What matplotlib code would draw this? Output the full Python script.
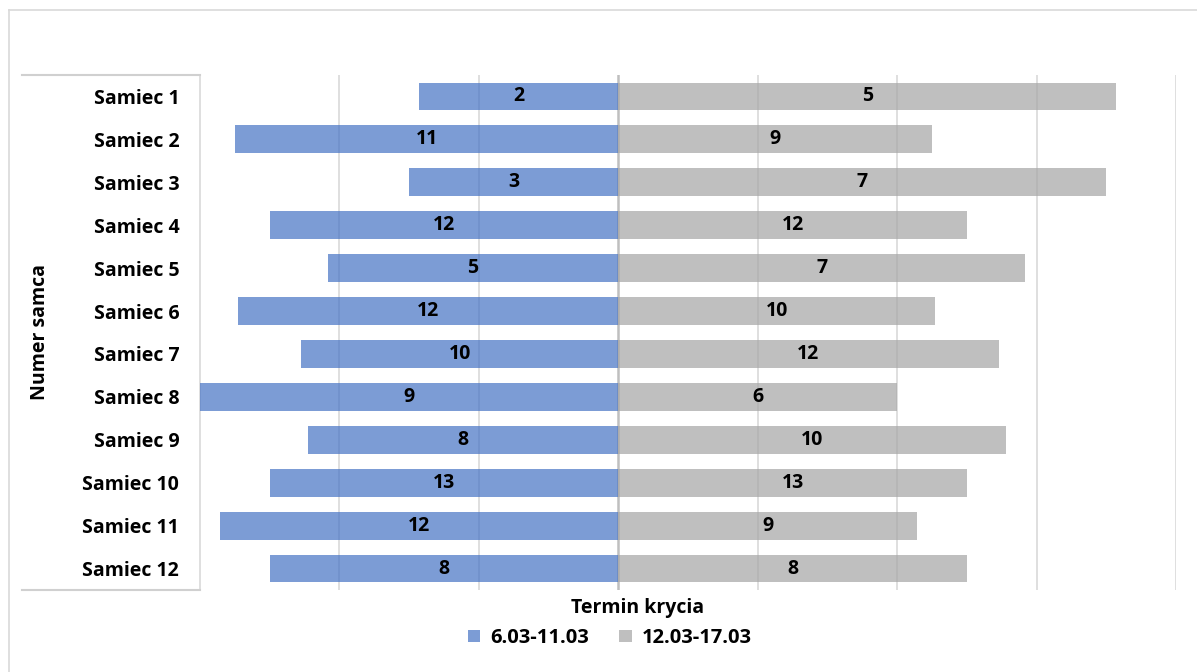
import matplotlib
matplotlib.use('Agg')
import matplotlib.pyplot as plt
from matplotlib.lines import Line2D
from matplotlib.patches import Patch

samce = ['Samiec 1', 'Samiec 2', 'Samiec 3', 'Samiec 4', 'Samiec 5', 'Samiec 6',
         'Samiec 7', 'Samiec 8', 'Samiec 9', 'Samiec 10', 'Samiec 11', 'Samiec 12']
okres_1 = [2, 11, 3, 12, 5, 12, 10, 9, 8, 13, 12, 8]   # 6.03-11.03
okres_2 = [5, 9, 7, 12, 7, 10, 12, 6, 10, 13, 9, 8]    # 12.03-17.03
serie = ['6.03-11.03', '12.03-17.03']

plt.rcParams['font.family'] = ['Open Sans', 'DejaVu Sans']
plt.rcParams['font.weight'] = 'bold'

# udzial procentowy kazdego okresu w krycia danego samca
suma = [a + b for a, b in zip(okres_1, okres_2)]
proc_1 = [-100.0 * a / s for a, s in zip(okres_1, suma)]
proc_2 = [100.0 * b / s for b, s in zip(okres_2, suma)]

fig = plt.figure(figsize=(11.97, 6.72), dpi=100)
ax = fig.add_axes([200 / 1197, 1 - 590 / 672, 976 / 1197, 515 / 672])

y = list(range(len(samce)))
niebieski = '#4472C4'
szary = '#A5A5A5'
b1 = ax.barh(y, proc_1, height=0.65, color=niebieski, alpha=0.7, zorder=3)
b2 = ax.barh(y, proc_2, height=0.65, color=szary, alpha=0.7, zorder=3)

for bars, vals in ((b1, okres_1), (b2, okres_2)):
    for rect, v in zip(bars, vals):
        cx = rect.get_x() + rect.get_width() / 2
        cy = rect.get_y() + rect.get_height() / 2
        ax.text(cx, cy, str(v), ha='center', va='center', fontsize=14,
                fontweight='bold', color='black', zorder=4)

ax.set_xlim(-60, 80)
ax.set_ylim(len(samce) - 0.5, -0.5)
ax.set_yticks(y)
ax.set_yticklabels(samce, fontsize=14, fontweight='bold')
ax.set_xticks([])
ax.tick_params(axis='y', length=0, pad=15)

for gx in [-40, -20, 20, 40, 60, 80]:
    ax.axvline(gx, color='#D9D9D9', lw=1.2, zorder=1)
ax.axvline(0, color='#BFBFBF', lw=1.8, zorder=2)

for s in ['top', 'right', 'bottom']:
    ax.spines[s].set_visible(False)
ax.spines['left'].set_color('#D9D9D9')
ax.spines['left'].set_linewidth(1.2)

# linie osi kategorii wychodzace w lewo
for yy in (75, 590):
    fig.add_artist(Line2D([22 / 1197, 200 / 1197], [1 - yy / 672] * 2,
                          color='#D0D0D0', lw=1.5))

# ramka wykresu
fig.add_artist(Line2D([9 / 1197, 1.0], [1 - 10 / 672] * 2, color='#D9D9D9', lw=1.2))
fig.add_artist(Line2D([9 / 1197] * 2, [0.0, 1 - 10 / 672], color='#D9D9D9', lw=1.2))

fig.text(40 / 1197, 1 - 332 / 672, 'Numer samca', rotation=90, ha='center',
         va='center', fontsize=14, fontweight='bold')
fig.text(638 / 1197, 1 - 608 / 672, 'Termin krycia', ha='center', va='center',
         fontsize=14, fontweight='bold')

uchwyty = [Patch(facecolor=niebieski, alpha=0.7), Patch(facecolor=szary, alpha=0.7)]
fig.legend(uchwyty, serie, loc='center', bbox_to_anchor=(610 / 1197, 1 - 638 / 672),
           ncol=2, frameon=False, fontsize=14.5, handlelength=0.6, handleheight=0.6,
           handletextpad=0.5, columnspacing=1.5)

fig.savefig('out.png', dpi=100)
